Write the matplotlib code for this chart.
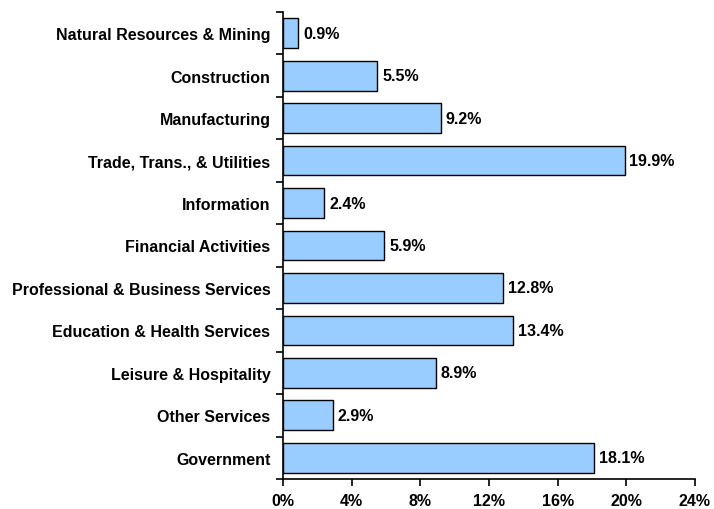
import numpy as np
import matplotlib.pyplot as plt
from matplotlib.ticker import FixedLocator

plt.rcParams['font.family'] = ['Liberation Sans', 'DejaVu Sans']
plt.rcParams['font.weight'] = 'bold'

industries = ['Natural Resources & Mining', 'Construction', 'Manufacturing',
              'Trade, Trans., & Utilities', 'Information', 'Financial Activities',
              'Professional & Business Services', 'Education & Health Services',
              'Leisure & Hospitality', 'Other Services', 'Government']
shares = [0.9, 5.5, 9.2, 19.9, 2.4, 5.9, 12.8, 13.4, 8.9, 2.9, 18.1]
xticks = [0, 4, 8, 12, 16, 20, 24]

fs = 11.5
fig = plt.figure(figsize=(7.14, 5.10), dpi=100)
ax = fig.add_axes([283/714, 30/510, 412/714, 467/510])

y = np.arange(len(industries))
ax.barh(y, shares, height=0.7, color='#99CCFF', edgecolor='black', linewidth=1.0)
for yi, v in zip(y, shares):
    ax.text(v + 0.28, yi, f'{v:.1f}%', va='center', ha='left',
            fontsize=fs, fontweight='bold')

ax.set_ylim(len(industries) - 0.5, -0.5)
ax.set_xlim(0, 24)
ax.set_yticks(y)
ax.set_yticklabels(industries, fontsize=fs, fontweight='bold')
ax.yaxis.set_minor_locator(FixedLocator(np.arange(-0.5, len(industries), 1)))
ax.tick_params(axis='y', which='major', length=0, pad=9)
ax.tick_params(axis='y', which='minor', length=5, width=1.2, direction='out')
ax.set_xticks(xticks)
ax.set_xticklabels([f'{t}%' for t in xticks], fontsize=fs, fontweight='bold')
ax.tick_params(axis='x', length=5, width=1.2, direction='out', pad=5)

for s in ['top', 'right']:
    ax.spines[s].set_visible(False)
for s in ['left', 'bottom']:
    ax.spines[s].set_linewidth(1.2)

fig.savefig('out.png', dpi=100)
